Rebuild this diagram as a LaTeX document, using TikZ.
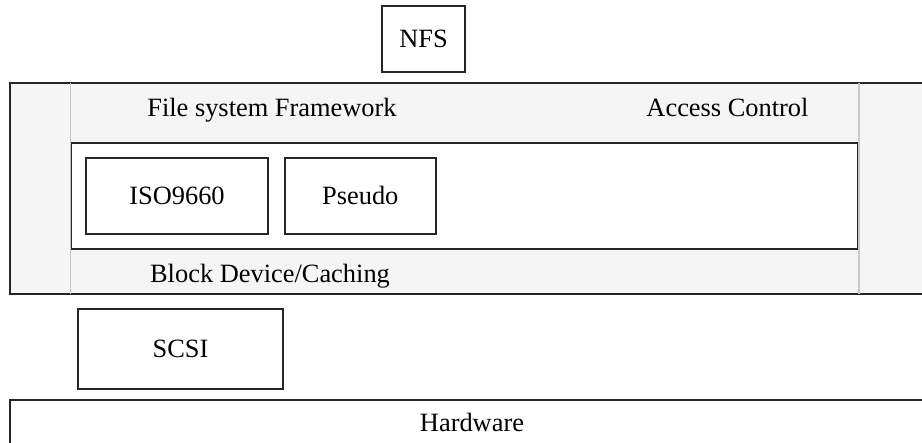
\documentclass[tikz,border=0pt]{standalone}
\usepackage{fontspec}
\setmainfont{Liberation Serif}
\usetikzlibrary{positioning}

\tikzset{
  layer/.style={draw=black!85, line width=0.9pt, fill=#1, inner sep=0pt, text height=9pt, text depth=0pt},
  layer/.default={black!4},
  box/.style={draw=black!85, line width=0.9pt, fill=white, inner sep=0pt, text height=9pt, text depth=0pt},
  sep/.style={draw=black!22, line width=0.6pt, shorten <=0.45pt, shorten >=0.45pt},
  txt/.style={inner sep=0pt, anchor=base}
}

\begin{document}
\begin{tikzpicture}[x=0.5pt, y=-0.5pt, font=\fontsize{13.2}{15}\selectfont]

  \useasboundingbox (0,0) rectangle (922,443);
  \clip (0,0) rectangle (922,443);

  % Kernel layer
  \node[layer, minimum width=462pt, minimum height=105.5pt] (fw) at (472,188.5) {};
  \node[box, minimum width=393.5pt, minimum height=53pt] (vfs) at (464.5,196) {};
  \draw[sep] (fw.north -| vfs.west) -- (fw.south -| vfs.west);
  \draw[sep] (fw.north -| vfs.east) -- (fw.south -| vfs.east);

  \node[txt] (fwtext) at (272,117) {File system Framework};
  \node[txt] (acl) at (727.5,117) {Access Control};
  \node[txt] (bdev) at (270,283) {Block Device/Caching};

  % File systems
  \node[box, minimum width=91pt, minimum height=38pt] (iso) at (177,196) {ISO9660};
  \node[box, minimum width=75.5pt, minimum height=38pt, right=7.5pt of iso] (pseudo) {Pseudo};

  % Above and below
  \node[box, minimum width=41.5pt, minimum height=33pt] (nfs) at (423.5,39) {NFS};
  \node[box, minimum width=102.5pt, minimum height=40pt] (scsi) at (180.5,349) {SCSI};
  \node[layer=white, minimum width=462pt, minimum height=23pt] (hw) at (472,423) {Hardware};

\end{tikzpicture}
\end{document}
